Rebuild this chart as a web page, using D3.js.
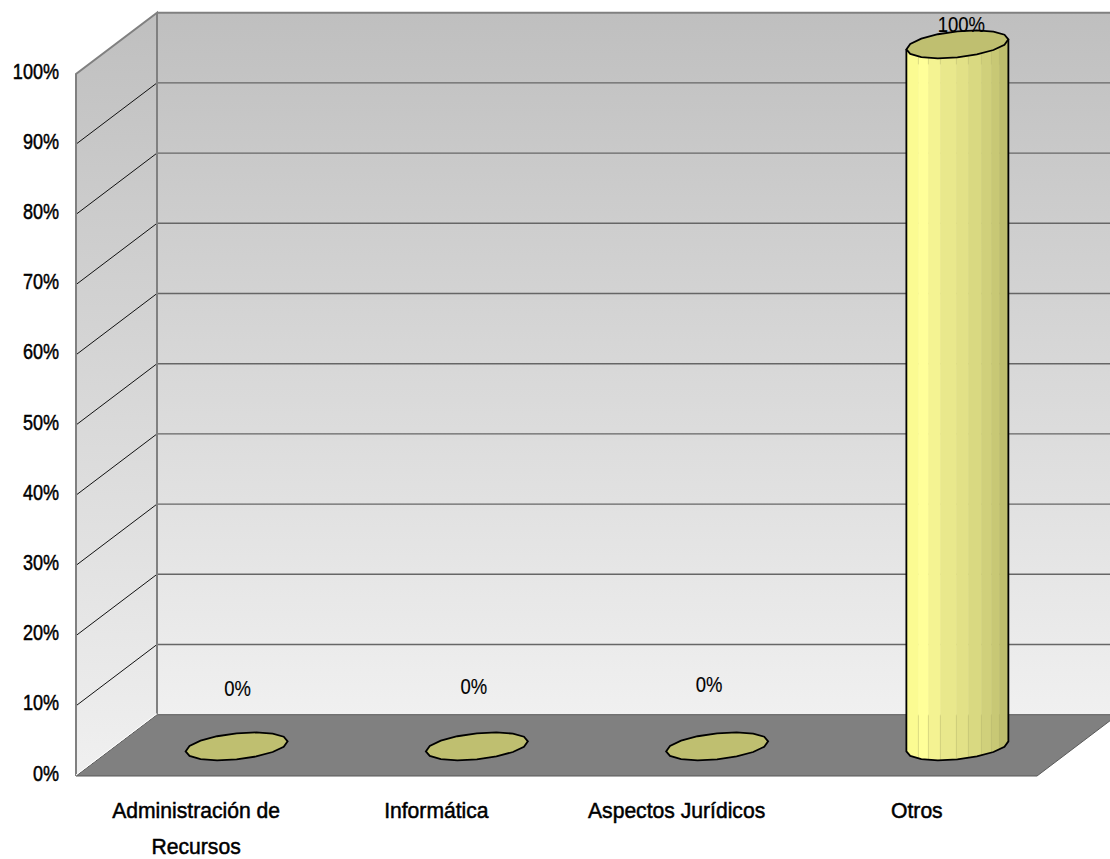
<!DOCTYPE html>
<html>
<head>
<meta charset="utf-8">
<script src="https://cdn.jsdelivr.net/npm/d3@7"></script>
<style>
  html, body { margin: 0; padding: 0; background: #fff; overflow: hidden; }
  svg { display: block; }
  text { font-family: "Liberation Sans", Arial, sans-serif; fill: #000; }
  .tick text { font-size: 22px; stroke: #000; stroke-width: .5px; }
  .xlab { font-size: 22px; stroke: #000; stroke-width: .5px; }
  .dlab { font-size: 22px; stroke: #000; stroke-width: .15px; }
</style>
</head>
<body>
<svg width="1110" height="859"></svg>
<script>
const categories = ['Administración de|Recursos', 'Informática', 'Aspectos Jurídicos', 'Otros'];
const values = [0, 0, 0, 100];
const yTicks = [0, 10, 20, 30, 40, 50, 60, 70, 80, 90, 100];
const stripColors = ['#fbfb92', '#ffff99', '#f4f392', '#e9e88c', '#e2e187', '#d9d981', '#d0d07b', '#c8c875', '#bdbd6d'];
const stripEdges = [-51, -39, -29, -17, -1, 11, 24, 34, 42, 51];

const svg = d3.select('svg');

// front plane scales
const x = d3.scaleBand().domain(categories).range([76, 1037]);
const y = d3.scaleLinear().domain([0, 100]).range([776, 74]);

// 3d depth of the box
const depth = { dx: 81, dy: -61.3 };
const yBack = v => y(v) + depth.dy;

// squeeze a text sideways, the reference font runs narrower than ours
const squeeze = (sel, k) => sel.each(function() {
  const n = this.getComputedTextLength();
  d3.select(this).attr('textLength', n * k).attr('lengthAdjust', 'spacingAndGlyphs');
});

const defs = svg.append('defs');
const wallGrad = defs.append('linearGradient').attr('id', 'wall')
  .attr('x1', 0).attr('x2', 0).attr('y1', 0).attr('y2', 1);
wallGrad.append('stop').attr('offset', 0).attr('stop-color', '#bfbfbf');
wallGrad.append('stop').attr('offset', 1).attr('stop-color', '#f0f0f0');

const line = d3.line();

// back wall
svg.append('rect')
  .attr('x', x.range()[0] + depth.dx).attr('y', yBack(100))
  .attr('width', 1110).attr('height', yBack(0) - yBack(100))
  .attr('fill', 'url(#wall)');

// side wall
svg.append('path')
  .attr('d', line([[76, y(0)], [76, y(100)], [76 + depth.dx, yBack(100)], [76 + depth.dx, yBack(0)]]) + 'Z')
  .attr('fill', 'url(#wall)');

// floor
const rightEnd = 1037;
svg.append('path')
  .attr('d', line([[76, y(0)], [76 + depth.dx, yBack(0)], [rightEnd + depth.dx, yBack(0)], [rightEnd, y(0)]]) + 'Z')
  .attr('fill', '#808080').attr('stroke', '#595959').attr('stroke-width', 1);

// grid lines
yTicks.filter(t => t > 0).forEach(t => {
  svg.append('line')
    .attr('x1', 76 + depth.dx).attr('x2', 1110)
    .attr('y1', yBack(t)).attr('y2', yBack(t))
    .attr('stroke', t === 100 ? '#808080' : '#666').attr('stroke-width', t === 100 ? 2 : 1.4);
  if (t < 100) {
    svg.append('line')
      .attr('x1', 76).attr('x2', 76 + depth.dx)
      .attr('y1', y(t)).attr('y2', yBack(t))
      .attr('stroke', '#111').attr('stroke-width', 1);
  }
});

// wall borders
svg.append('path')
  .attr('d', line([[76, y(0)], [76, y(100)], [76 + depth.dx, yBack(100)], [76 + depth.dx, yBack(0)]]))
  .attr('fill', 'none').attr('stroke', '#808080').attr('stroke-width', 2);
svg.append('line')
  .attr('x1', 76).attr('x2', 76 + depth.dx).attr('y1', y(0) - 1).attr('y2', yBack(0) - 1)
  .attr('stroke', '#fff').attr('stroke-width', 1);

// cylinders
const cx = c => x(c) + x.bandwidth() / 2 + depth.dx / 2;
const cyOf = v => y(v) + depth.dy / 2 + 1;
const capPoint = (px, py, a) => [px + 51 * Math.cos(a), py - 5 * Math.cos(a) - 13 * Math.sin(a)];
const capPts = (px, py) => d3.range(16).map(i => capPoint(px, py, i / 16 * 2 * Math.PI));

categories.forEach((c, i) => {
  const px = cx(c), top = cyOf(values[i]), bottom = cyOf(0);
  if (values[i] > 0) {
    const lower = d3.range(9).map(k => capPoint(px, bottom, Math.PI + k / 8 * Math.PI));
    const outline = [capPoint(px, top, Math.PI)].concat(lower, [capPoint(px, top, 0)]);
    defs.append('clipPath').attr('id', 'body' + i)
      .append('path').attr('d', line(outline) + 'Z');
    const body = svg.append('g').attr('clip-path', `url(#body${i})`);
    body.selectAll('rect').data(stripColors).join('rect')
      .attr('x', (d, k) => px + stripEdges[k])
      .attr('width', (d, k) => stripEdges[k + 1] - stripEdges[k] + .5)
      .attr('y', top - 20).attr('height', bottom - top + 40)
      .attr('fill', d => d);
    // faint strip seams near both ends of the body
    [[top - 5, top + 20], [bottom - 31, bottom + 20]].forEach(span => {
      body.selectAll(null).data(stripEdges.slice(1, -1)).join('line')
        .attr('x1', d => px + d).attr('x2', d => px + d)
        .attr('y1', span[0]).attr('y2', span[1])
        .attr('stroke', '#b5b56a').attr('stroke-opacity', .45).attr('stroke-width', 1);
    });
    svg.append('path').attr('d', line(outline))
      .attr('fill', 'none').attr('stroke', '#000').attr('stroke-width', 1.8);
    svg.append('path').attr('d', line(capPts(px, top)) + 'Z')
      .attr('fill', '#bfbf70').attr('stroke', '#000').attr('stroke-width', 1.8);
  } else {
    svg.append('path').attr('d', line(capPts(px, top)) + 'Z')
      .attr('fill', '#bfbf70').attr('stroke', '#000').attr('stroke-width', 1.8);
  }
});

// data labels
const labelShift = [[1, -58], [-3, -60], [-8, -62], [4, -20]];
svg.selectAll('.dlab').data(categories).join('text')
  .attr('class', 'dlab')
  .attr('text-anchor', 'middle')
  .attr('x', (c, i) => cx(c) + labelShift[i][0])
  .attr('y', (c, i) => cyOf(values[i]) + labelShift[i][1] + 8)
  .text((c, i) => values[i] + '%')
  .call(squeeze, .84);

// axes
const yAxis = svg.append('g').attr('transform', 'translate(76,-3)')
  .call(d3.axisLeft(y).tickValues(yTicks).tickSize(0).tickPadding(17).tickFormat(d => d + '%'));
yAxis.select('.domain').remove();
yAxis.selectAll('.tick text').call(squeeze, .82);

// x labels
categories.forEach(c => {
  c.split('|').forEach((p, k) => {
    svg.append('text').attr('class', 'xlab').attr('text-anchor', 'middle')
      .attr('x', x(c) + x.bandwidth() / 2).attr('y', 818 + k * 36).text(p)
      .call(squeeze, .96);
  });
});
</script>
</body>
</html>
